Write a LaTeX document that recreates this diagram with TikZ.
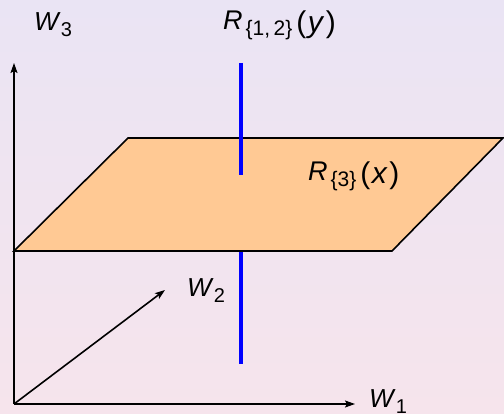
\documentclass[tikz,border=0pt]{standalone}
\usepackage{fontspec}
\setmainfont{Liberation Sans}
\usetikzlibrary{arrows.meta}
\definecolor{bgtop}{HTML}{EAE4F4}
\definecolor{bgbot}{HTML}{F6E4EC}
\definecolor{planefill}{HTML}{FFC994}
\definecolor{linkblue}{HTML}{0000FF}
\newcommand{\lsub}[2][20]{\raisebox{-6pt}[\height][0pt]{\fontsize{#1}{#1}\selectfont #2}}
\newcommand{\barg}[1]{\raisebox{-3pt}{\fontsize{30}{30}\selectfont(\hspace{1.5pt}\textit{#1}\hspace{1.5pt})}}
\begin{document}
\begin{tikzpicture}[x=1pt,y=-1pt,
  axis/.style={line width=1.6pt,-{Stealth[length=10pt,width=7pt,inset=2pt]}},
  plane/.style={line width=1.6pt,fill=planefill,line join=miter},
  bar/.style={line width=4pt,linkblue},
  lbl/.style={inner sep=0pt,anchor=base west,font=\fontsize{26}{26}\selectfont},
  rlbl/.style={inner sep=0pt,anchor=base west,font=\fontsize{27}{27}\selectfont}]
\useasboundingbox (0,0) rectangle (504,414);
\shade[top color=bgtop,bottom color=bgbot] (0,0) rectangle (504,414);
% blue bar lower part
\coordinate (blow1) at (241,251);
\coordinate (blow2) at (241,364);
\draw[bar] (blow1) -- (blow2);
% axes
\coordinate (O) at (14,404);
\coordinate (e1) at (355,404);
\coordinate (e3) at (14,63);
\coordinate (e2) at (165,290);
\draw[axis] (O) -- (e1);
\draw[axis] (O) -- (e3);
\draw[axis] (O) -- (e2);
% plane
\coordinate (p1) at (14,251);
\coordinate (p2) at (128,138);
\coordinate (p3) at (503,138);
\coordinate (p4) at (392,251);
\draw[plane] (p1) -- (p2) -- (p3) -- (p4) -- cycle;
% blue bar upper part
\coordinate (bup1) at (241,63);
\coordinate (bup2) at (241,175);
\draw[bar] (bup1) -- (bup2);
% labels
\node[lbl] (lw3) at (34,31) {\textit{W}\lsub{3}};
\node[rlbl] (lr12) at (223,30) {\textit{R}\hspace{3pt}\lsub[21]{\{1,\,2\}}\hspace{4pt}\barg{y}};
\node[rlbl] (lr3) at (308,181) {\textit{R}\hspace{3pt}\lsub[21]{\{3\}}\hspace{4pt}\barg{x}};
\node[lbl] (lw2) at (187,297) {\textit{W}\lsub{2}};
\node[lbl] (lw1) at (369,407) {\textit{W}\lsub{1}};
\end{tikzpicture}
\end{document}
